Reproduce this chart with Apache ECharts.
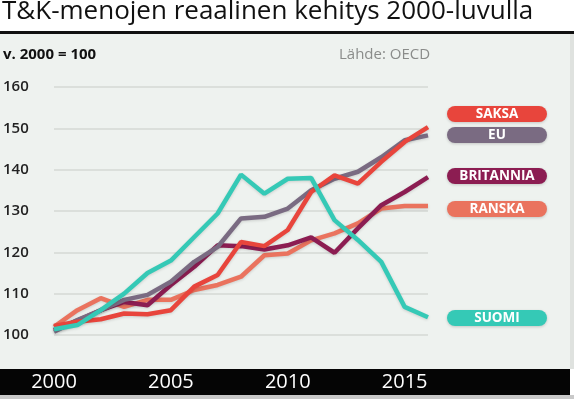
<!DOCTYPE html>
<html>
<head>
<meta charset="utf-8">
<script src="https://cdn.jsdelivr.net/npm/echarts@6/dist/echarts.min.js"></script>
<style>
  html, body { margin: 0; padding: 0; background: #fff; }
  #main { width: 574px; height: 399px; }
</style>
</head>
<body>
<div id="main"></div>
<script>
// vuodet ja indeksit (v. 2000 = 100)
var years = ['2000','2001','2002','2003','2004','2005','2006','2007','2008','2009','2010','2011','2012','2013','2014','2015','2016'];
var saksa     = [102.2,103.2,103.8,105.2,105.0,106.0,111.7,114.5,122.5,121.5,125.4,134.6,138.6,136.6,141.9,146.7,150.3];
var eu        = [100.8,103.6,106.0,108.5,109.7,112.9,117.7,121.3,128.2,128.6,130.6,135.0,137.8,139.5,143.0,147.1,148.3];
var britannia = [101.2,103.5,106.0,108.0,107.2,112.1,116.5,121.7,121.5,120.7,121.7,123.6,119.9,125.8,131.4,134.6,138.2];
var ranska    = [102.0,106.0,108.9,106.8,108.5,108.5,110.9,112.1,114.1,119.3,119.7,122.9,124.6,127.0,130.6,131.2,131.2];
var suomi     = [101.4,102.4,106.0,110.0,115.0,118.0,123.7,129.4,138.8,134.2,137.8,138.0,127.8,123.0,117.7,106.8,104.3];

var yTicks = [100, 110, 120, 130, 140, 150, 160];

var colors = {
  saksa: '#e8453c',
  eu: '#7a6b82',
  britannia: '#8c1d52',
  ranska: '#ea735e',
  suomi: '#35c9b6'
};

var chart = echarts.init(document.getElementById('main'));

function mkLine(name, data, color) {
  return {
    name: name,
    type: 'line',
    data: data,
    symbol: 'none',
    lineStyle: { color: color, width: 4.5, shadowColor: 'rgba(0,0,0,0.15)', shadowBlur: 3, shadowOffsetY: 1 },
    itemStyle: { color: color }
  };
}

function pill(label, top, color) {
  return {
    type: 'group',
    left: 447,
    top: top,
    children: [
      { type: 'rect', shape: { x: 0, y: 0, width: 100, height: 16, r: 8 },
        style: { fill: color, shadowColor: 'rgba(0,0,0,0.18)', shadowBlur: 3, shadowOffsetY: 1 } },
      { type: 'text', x: 50, y: 8.5,
        style: { text: label, fill: '#fff', font: 'bold 13.5px "Open Sans"', textAlign: 'center', textVerticalAlign: 'middle' } }
    ]
  };
}

chart.setOption({
  animation: false,
  backgroundColor: '#fff',
  grid: { left: 54, right: 146, top: 87, bottom: 64 },
  xAxis: {
    type: 'category',
    data: years,
    boundaryGap: false,
    axisLine: { show: false },
    axisTick: { show: false },
    axisLabel: {
      interval: 4,
      color: '#fff',
      fontFamily: 'Open Sans',
      fontSize: 20,
      margin: 37
    }
  },
  yAxis: {
    type: 'value',
    min: yTicks[0],
    max: yTicks[yTicks.length - 1],
    interval: 10,
    axisLine: { show: false },
    axisTick: { show: false },
    axisLabel: {
      color: '#222',
      fontFamily: 'Open Sans',
      fontWeight: 600,
      fontSize: 15,
      margin: 51,
      align: 'left'
    },
    splitLine: { lineStyle: { color: '#d5d9d5', width: 1.5 } }
  },
  graphic: [
    { type: 'rect', z: -10, shape: { x: 0, y: 33, width: 570, height: 336 }, style: { fill: '#eef2ef' } },
    { type: 'rect', z: -10, shape: { x: 570, y: 33, width: 4, height: 336 }, style: { fill: '#dfe2df' } },
    { type: 'rect', z: -10, shape: { x: 0, y: 31, width: 574, height: 3 }, style: { fill: '#111' } },
    { type: 'rect', z: -10, shape: { x: 0, y: 369, width: 570, height: 26 }, style: { fill: '#050505' } },
    { type: 'rect', z: -10, shape: { x: 0, y: 395, width: 574, height: 4 }, style: { fill: '#c9c9c9' } },
    { type: 'text', left: 2, top: -1,
      style: { text: 'T&K-menojen reaalinen kehitys 2000-luvulla', fill: '#111', font: '26px "Open Sans"' } },
    { type: 'text', left: 3, top: 47,
      style: { text: 'v. 2000 = 100', fill: '#111', font: 'bold 15px "Open Sans"' } },
    { type: 'text', left: 339, top: 47,
      style: { text: 'Lähde: OECD', fill: '#8a8c8a', font: '15px "Open Sans"' } },
    pill('SAKSA', 106, colors.saksa),
    pill('EU', 127, colors.eu),
    pill('BRITANNIA', 168, colors.britannia),
    pill('RANSKA', 201, colors.ranska),
    pill('SUOMI', 310, colors.suomi)
  ],
  series: [
    mkLine('Ranska', ranska, colors.ranska),
    mkLine('Britannia', britannia, colors.britannia),
    mkLine('EU', eu, colors.eu),
    mkLine('Saksa', saksa, colors.saksa),
    mkLine('Suomi', suomi, colors.suomi)
  ]
});
</script>
</body>
</html>
